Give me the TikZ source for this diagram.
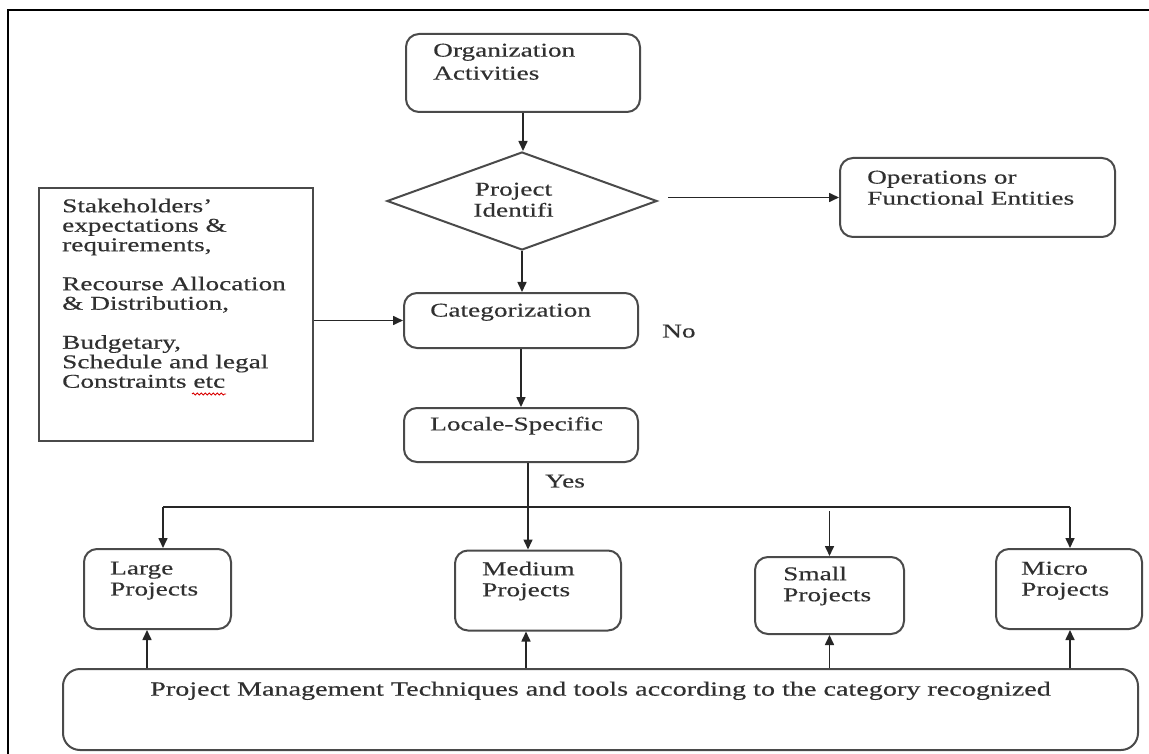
\documentclass[tikz,border=0pt]{standalone}
\usepackage{fontspec}
\setmainfont{Liberation Serif}[FakeStretch=1.40,FakeBold=0.35]
\usetikzlibrary{arrows.meta,shapes.geometric,decorations.pathmorphing}
\definecolor{boxgray}{HTML}{4a4a4a}
\definecolor{textgray}{HTML}{303030}
\newcommand{\fsA}{\fontsize{19.5}{23}\selectfont}
\newcommand{\fsB}{\fontsize{19.5}{21}\selectfont}
\newcommand{\fsC}{\fontsize{19.5}{19.5}\selectfont}
\newcommand{\fsD}{\fontsize{20.1}{23}\selectfont}
\begin{document}
\begin{tikzpicture}[x=1pt,y=-1pt,
  box/.style={draw=boxgray, line width=2pt, rounded corners=13pt, inner sep=0pt, minimum width=#1},
  sqbox/.style={draw=boxgray, line width=2pt, inner sep=0pt},
  dia/.style={draw=boxgray, line width=2pt, diamond, inner sep=0pt},
  txt/.style={anchor=north west, inner sep=0pt, align=left, text=textgray},
  ctxt/.style={anchor=north, inner sep=0pt, align=center, text=textgray},
  arr/.style={-{Triangle[length=10pt,width=9pt]}, line width=1.6pt, draw=black!85},
  conn/.style={line width=1.6pt, draw=black!85}]
\useasboundingbox (0,0) rectangle (1149,754);
\fill[white] (0,0) rectangle (1149,754);
% frame
\draw[line width=2.2pt] (8,754) -- (8,10) -- (1149,10);

% boxes
\node[box=234pt, minimum height=78pt] (org) at (523,73) {};
\node[dia, minimum width=270pt, minimum height=98pt] (dia) at (522,201) {};
\node[box=275pt, minimum height=79pt] (ops) at (977.5,197.5) {};
\node[sqbox, minimum width=274pt, minimum height=253pt] (stake) at (176,314.5) {};
\node[box=234pt, minimum height=55pt] (cat) at (521,320.5) {};
\node[box=234pt, minimum height=54pt] (loc) at (521,435) {};
\node[box=147pt, minimum height=80pt] (large) at (157.5,589) {};
\node[box=166pt, minimum height=80pt] (med) at (538,590.5) {};
\node[box=149pt, minimum height=77pt] (small) at (829.5,595.5) {};
\node[box=146pt, minimum height=80pt] (micro) at (1069,589) {};
\node[box=1075pt, minimum height=81pt, rounded corners=17pt] (bot) at (600.5,709.5) {};

% texts
\node[txt, font=\fsA] (orgT) at (433,43.5) {Organization\\Activities};
\node[ctxt, font=\fsB] (diaT) at (513.5,182.5) {Project\\Identifi};
\node[txt, font=\fsB] (opsT) at (867,170.5) {Operations or\\Functional Entities};
\node[txt, font=\fsC] (stakeT) at (62,198.5) {Stakeholders'\\expectations \&\\requirements,\\[19.5pt]Recourse Allocation\\\& Distribution,\\[19.5pt]Budgetary,\\Schedule and legal\\Constraints etc};
\node[txt, font=\fsA] (catT) at (430,303.5) {Categorization};
\node[txt, font=\fsA] (noT) at (662,324.5) {No};
\node[txt, font=\fsA] (locT) at (430,416.5) {Locale-Specific};
\node[txt, font=\fsA] (yesT) at (545,474.5) {Yes};
\node[txt, font=\fsB] (largeT) at (110,561.5) {Large\\Projects};
\node[txt, font=\fsB] (medT) at (482,561.5) {Medium\\Projects};
\node[txt, font=\fsB] (smallT) at (783,566.5) {Small\\Projects};
\node[txt, font=\fsB] (microT) at (1021,561.5) {Micro\\Projects};
\node[ctxt, font=\fsD] (botT) at (600.5,681.5) {Project Management Techniques and tools according to the category recognized};

% spell-check underline under "etc"
\draw[red!85!black, line width=0.9pt, decorate, decoration={snake, amplitude=1pt, segment length=4pt}] (192,394) -- (226,394);

% connectors
\draw[arr] (org.south) -- (org.south |- dia.north);
\draw[arr] ([xshift=10pt]dia.east |- ops.west) -- (ops.west);
\draw[arr] (dia.south) -- (dia.south |- cat.north);
\draw[arr] (stake.east |- cat.west) -- (cat.west);
\draw[arr] (cat.south) -- (cat.south |- loc.north);

\coordinate (split) at (528,507);
\coordinate (hl) at (163,507);
\coordinate (hr) at (1070,507);
\coordinate (sm) at (829.5,511);
\draw[conn] (hl) -- (hr);
\draw[arr] (loc.south -| split) -- (split |- med.north);
\draw[arr] (hl) -- (hl |- large.north);
\draw[arr] (hr) -- (hr |- micro.north);
\draw[arr] (sm) -- (small.north);

\coordinate (u1) at (147,0);
\coordinate (u2) at (526,0);
\coordinate (u3) at (829.5,0);
\coordinate (u4) at (1070,0);
\draw[arr] (bot.north -| u1) -- (large.south -| u1);
\draw[arr] (bot.north -| u2) -- (med.south -| u2);
\draw[arr] (bot.north -| u3) -- (small.south -| u3);
\draw[arr] (bot.north -| u4) -- (micro.south -| u4);
\end{tikzpicture}
\end{document}
